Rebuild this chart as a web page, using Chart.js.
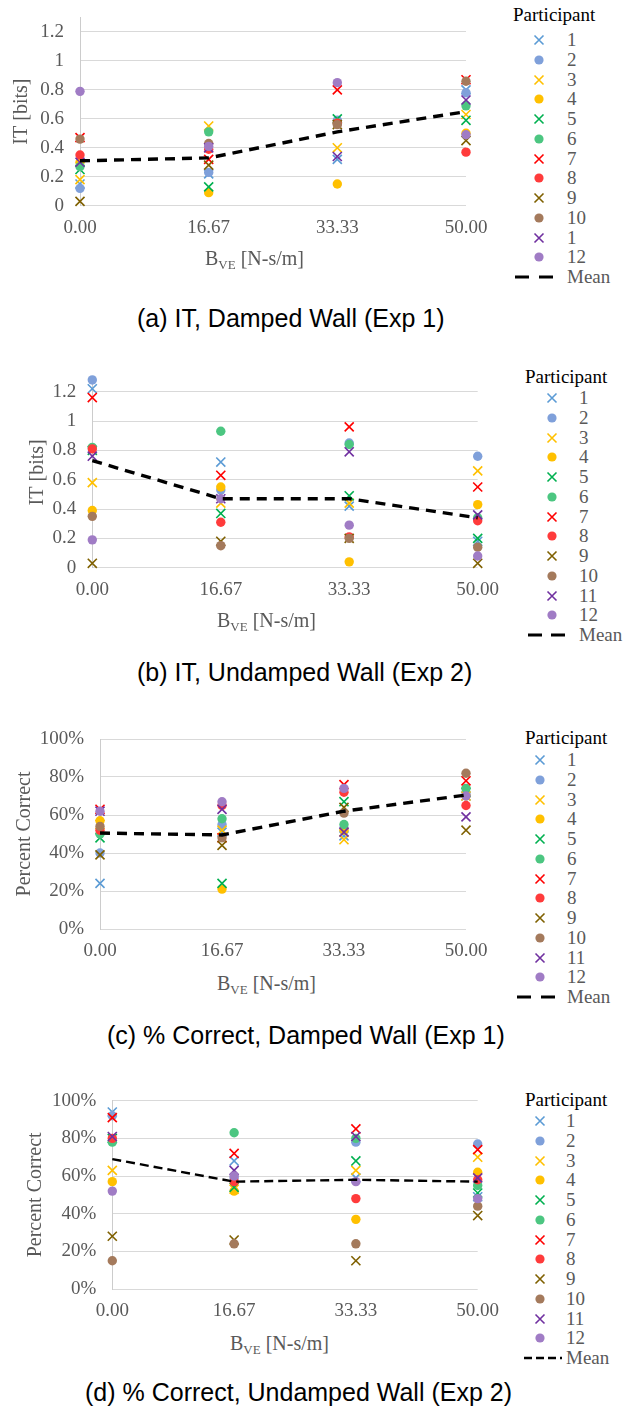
<!DOCTYPE html>
<html>
<head>
<meta charset="utf-8">
<script src="https://cdn.jsdelivr.net/npm/chart.js@4.4.1/dist/chart.umd.min.js"></script>
<style>
  body { margin: 0; width: 626px; height: 1410px; position: relative; background: #fff; overflow: hidden; }
  canvas { position: absolute; left: 0; }
  .legend { position: absolute; left: 0; top: 0; font-family: 'Liberation Serif', 'Times New Roman', serif; font-size: 19px; color: #595959; }
  .legend .ttl { position: absolute; color: #000; white-space: nowrap; line-height: 22px; }
  .legend .row { position: absolute; white-space: nowrap; line-height: 20px; height: 20px; }
  .legend svg { position: absolute; }
  .xtitle { position: absolute; font-family: 'Liberation Serif', 'Times New Roman', serif; font-size: 20px; color: #595959; white-space: nowrap; line-height: 24px; }
  .xtitle sub { font-size: 13px; vertical-align: baseline; position: relative; top: 4px; }
  .caption { position: absolute; font-family: 'Liberation Sans', Arial, sans-serif; font-size: 25px; color: #000; white-space: nowrap; line-height: 28px; }
</style>
</head>
<body>
<script>
// damping levels on the x axis
const bLevels = [0, 16.67, 33.33, 50];

const participants = ['1', '2', '3', '4', '5', '6', '7', '8', '9', '10', '11', '12'];
// panel (a) legend has "1" for participant 11 in the original
const legendLabelsA = ['1', '2', '3', '4', '5', '6', '7', '8', '9', '10', '1', '12'];
const markers = ['x', 'o', 'x', 'o', 'x', 'o', 'x', 'o', 'x', 'o', 'x', 'o'];
const colors = ['#5B9BD5', '#7FA0DA', '#FFC000', '#FFC000', '#00B050', '#4CC681',
                '#FF0000', '#FF3B3B', '#7F6000', '#A47A5C', '#7030A0', '#A07CC5'];

// (a) IT, damped wall - one row per participant, values at bLevels
const itDamped = [
  [0.15, 0.22, 0.32, 0.80],
  [0.12, 0.23, 0.59, 0.78],
  [0.18, 0.55, 0.40, 0.63],
  [0.30, 0.09, 0.15, 0.50],
  [0.25, 0.13, 0.60, 0.59],
  [0.27, 0.51, 0.57, 0.69],
  [0.47, 0.32, 0.80, 0.87],
  [0.35, 0.39, 0.57, 0.37],
  [0.03, 0.28, 0.56, 0.45],
  [0.46, 0.43, 0.56, 0.86],
  [0.30, 0.40, 0.34, 0.73],
  [0.79, 0.41, 0.85, 0.49]
];
const itDampedMean = [0.31, 0.33, 0.51, 0.65];

// (b) IT, undamped wall
const itUndamped = [
  [1.22, 0.72, 0.42, 0.18],
  [1.28, 0.53, 0.85, 0.76],
  [0.58, 0.44, 0.44, 0.66],
  [0.39, 0.55, 0.04, 0.43],
  [0.80, 0.37, 0.49, 0.20],
  [0.82, 0.93, 0.84, 0.34],
  [1.16, 0.63, 0.96, 0.55],
  [0.81, 0.31, 0.21, 0.32],
  [0.03, 0.18, 0.20, 0.03],
  [0.35, 0.15, 0.20, 0.14],
  [0.76, 0.47, 0.79, 0.36],
  [0.19, 0.47, 0.29, 0.08]
];
const itUndampedMean = [0.73, 0.47, 0.47, 0.34];

// (c) percent correct, damped wall
const pcDamped = [
  [24, 51, 49, 70],
  [40, 55, 53, 71],
  [55, 52, 47, 70],
  [57, 21, 52, 70],
  [48, 24, 67, 72],
  [50, 58, 55, 74],
  [63, 48, 76, 78],
  [52, 65, 72, 65],
  [39, 44, 64, 52],
  [54, 48, 61, 82],
  [62, 63, 51, 59],
  [62, 67, 74, 70]
];
const pcDampedMean = [50.5, 49.5, 62, 70.5];

// (d) percent correct, undamped wall
const pcUndamped = [
  [94, 68, 59, 49],
  [92, 59, 78, 77],
  [63, 53, 63, 70],
  [57, 52, 37, 62],
  [80, 54, 68, 51],
  [78, 83, 80, 55],
  [91, 72, 85, 74],
  [80, 57, 48, 58],
  [28, 26, 15, 39],
  [15, 24, 24, 44],
  [81, 63, 81, 59],
  [52, 60, 57, 48]
];
const pcUndampedMean = [69, 57, 58, 57];

const serif = "'Liberation Serif', 'Times New Roman', serif";
const itTick = v => String(Math.round(v * 10) / 10);
const pcTick = v => Math.round(v) + '%';

const panels = [
  { data: itDamped, mean: itDampedMean, labels: legendLabelsA,
    top: 0, plotTop: 17.5, plotBottom: 205.7, plotLeft: 80, plotRight: 466,
    yMax: 1.3, step: 0.2, tick: itTick, yTitle: 'IT [bits]', yTitleX: 22,
    meanWidth: 3.4, meanDash: [10, 7],
    lgTitleX: 513, lgTitleY: 15, lgIconX: 539, lgLabelX: 567, lgFirstY: 40, lgStep: 19.75,
    lgMean: [515, 553, '14 10', 3.2],
    xTitleX: 205, xTitleY: 258, caption: '(a) IT, Damped Wall (Exp 1)', capX: 137, capY: 318 },
  { data: itUndamped, mean: itUndampedMean, labels: participants,
    top: 360, plotTop: 377, plotBottom: 567.7, plotLeft: 92.3, plotRight: 477.7,
    yMax: 1.3, step: 0.2, tick: itTick, yTitle: 'IT [bits]', yTitleX: 38,
    meanWidth: 3.4, meanDash: [10, 7],
    lgTitleX: 525, lgTitleY: 377, lgIconX: 551.7, lgLabelX: 579, lgFirstY: 398.3, lgStep: 19.72,
    lgMean: [528, 565, '14 9', 3.2],
    xTitleX: 217, xTitleY: 620, caption: '(b) IT, Undamped Wall (Exp 2)', capX: 137, capY: 672 },
  { data: pcDamped, mean: pcDampedMean, labels: participants,
    top: 720, plotTop: 739, plotBottom: 929, plotLeft: 100, plotRight: 466,
    yMax: 100, step: 20, tick: pcTick, yTitle: 'Percent Correct', yTitleX: 25,
    meanWidth: 3.4, meanDash: [10, 7],
    lgTitleX: 525, lgTitleY: 738, lgIconX: 540, lgLabelX: 567, lgFirstY: 760, lgStep: 19.75,
    lgMean: [517, 555, '14 10', 3.2],
    xTitleX: 217, xTitleY: 983, caption: '(c) % Correct, Damped Wall (Exp 1)', capX: 107, capY: 1035 },
  { data: pcUndamped, mean: pcUndampedMean, labels: participants,
    top: 1080, plotTop: 1100.7, plotBottom: 1289, plotLeft: 112.3, plotRight: 477.7,
    yMax: 100, step: 20, tick: pcTick, yTitle: 'Percent Correct', yTitleX: 36,
    meanWidth: 2.4, meanDash: [9, 5],
    lgTitleX: 525, lgTitleY: 1100, lgIconX: 540, lgLabelX: 566, lgFirstY: 1121, lgStep: 19.75,
    lgMean: [524, 562, '8 4', 2.3],
    xTitleX: 230, xTitleY: 1343, caption: '(d) % Correct, Undamped Wall (Exp 2)', capX: 85, capY: 1392 }
];

const CW = 500, CH = 250;

function makeChart(p) {
  const canvas = document.createElement('canvas');
  canvas.width = CW;
  canvas.height = CH;
  canvas.style.top = p.top + 'px';
  document.body.appendChild(canvas);

  const datasets = p.data.map((vals, i) => ({
    label: participants[i],
    data: vals.map((v, k) => ({ x: bLevels[k], y: v })),
    showLine: false,
    pointStyle: markers[i] === 'x' ? 'crossRot' : 'circle',
    pointRadius: markers[i] === 'x' ? 6.4 : 4.7,
    pointBorderWidth: markers[i] === 'x' ? 1.6 : 0,
    borderColor: colors[i],
    backgroundColor: colors[i],
    clip: false,
    order: 13 - i
  }));
  datasets.push({
    label: 'Mean',
    data: p.mean.map((v, k) => ({ x: bLevels[k], y: v })),
    showLine: true,
    borderColor: '#000',
    borderWidth: p.meanWidth,
    borderDash: p.meanDash,
    pointRadius: 0,
    fill: false,
    clip: false,
    order: 0
  });

  new Chart(canvas, {
    type: 'scatter',
    data: { datasets: datasets },
    options: {
      responsive: false,
      animation: false,
      devicePixelRatio: 1,
      layout: { padding: { left: 0, top: p.plotTop - p.top, right: CW - p.plotRight, bottom: 0 } },
      plugins: { legend: { display: false }, tooltip: { enabled: false } },
      scales: {
        x: {
          type: 'linear',
          min: 0,
          max: 50,
          grid: { display: false, drawTicks: false },
          border: { display: false },
          afterBuildTicks: s => { s.ticks = bLevels.map(v => ({ value: v })); },
          afterFit: s => { s.height = CH - (p.plotBottom - p.top); s.paddingLeft = 0; s.paddingRight = 0; },
          ticks: {
            padding: 11, autoSkip: false, maxRotation: 0, color: '#595959',
            font: { family: serif, size: 19 },
            callback: v => v.toFixed(2)
          }
        },
        y: {
          min: 0,
          max: p.yMax,
          afterFit: s => { s.width = p.plotLeft; s.paddingTop = 0; s.paddingBottom = 0; },
          grid: { color: '#d9d9d9', lineWidth: 1, drawTicks: false },
          border: { color: '#cccccc', width: 1 },
          ticks: {
            stepSize: p.step, includeBounds: false, padding: 16, color: '#595959',
            font: { family: serif, size: 19 },
            callback: p.tick
          },
          title: {
            display: true, text: p.yTitle, color: '#595959',
            font: { family: serif, size: 20 },
            padding: { top: p.yTitleX - 12, bottom: 0 }
          }
        }
      }
    }
  });
}

function svgEl(tag, attrs) {
  const el = document.createElementNS('http://www.w3.org/2000/svg', tag);
  for (const k in attrs) el.setAttribute(k, attrs[k]);
  return el;
}

function makeLegend(p) {
  const lg = document.createElement('div');
  lg.className = 'legend';
  const ttl = document.createElement('div');
  ttl.className = 'ttl';
  ttl.textContent = 'Participant';
  ttl.style.left = p.lgTitleX + 'px';
  ttl.style.top = (p.lgTitleY - 11) + 'px';
  lg.appendChild(ttl);

  p.labels.forEach((lab, i) => {
    const cy = p.lgFirstY + i * p.lgStep;
    const svg = svgEl('svg', { width: 16, height: 16 });
    svg.style.left = (p.lgIconX - 8) + 'px';
    svg.style.top = (cy - 8) + 'px';
    if (markers[i] === 'x') {
      svg.appendChild(svgEl('path', { d: 'M3.5 3.5 L12.5 12.5 M12.5 3.5 L3.5 12.5', stroke: colors[i], 'stroke-width': 1.6, fill: 'none' }));
    } else {
      svg.appendChild(svgEl('circle', { cx: 8, cy: 8, r: 4.6, fill: colors[i] }));
    }
    lg.appendChild(svg);
    const row = document.createElement('div');
    row.className = 'row';
    row.textContent = lab;
    row.style.left = p.lgLabelX + 'px';
    row.style.top = (cy - 10) + 'px';
    lg.appendChild(row);
  });

  // mean entry
  const cy = p.lgFirstY + 12 * p.lgStep;
  const [x0, x1, dash, w] = p.lgMean;
  const svg = svgEl('svg', { width: x1 - x0, height: 8 });
  svg.style.left = x0 + 'px';
  svg.style.top = (cy - 4) + 'px';
  svg.appendChild(svgEl('line', { x1: 0, y1: 4, x2: x1 - x0, y2: 4, stroke: '#000', 'stroke-width': w, 'stroke-dasharray': dash }));
  lg.appendChild(svg);
  const row = document.createElement('div');
  row.className = 'row';
  row.textContent = 'Mean';
  row.style.left = p.lgLabelX + 'px';
  row.style.top = (cy - 10) + 'px';
  lg.appendChild(row);

  document.body.appendChild(lg);
}

function makeTexts(p) {
  const xt = document.createElement('div');
  xt.className = 'xtitle';
  xt.innerHTML = 'B<sub>VE</sub> [N-s/m]';
  xt.style.left = p.xTitleX + 'px';
  xt.style.top = (p.xTitleY - 12) + 'px';
  document.body.appendChild(xt);

  const cap = document.createElement('div');
  cap.className = 'caption';
  cap.textContent = p.caption;
  cap.style.left = p.capX + 'px';
  cap.style.top = (p.capY - 14) + 'px';
  document.body.appendChild(cap);
}

panels.forEach(p => {
  makeChart(p);
  makeLegend(p);
  makeTexts(p);
});
</script>
</body>
</html>
